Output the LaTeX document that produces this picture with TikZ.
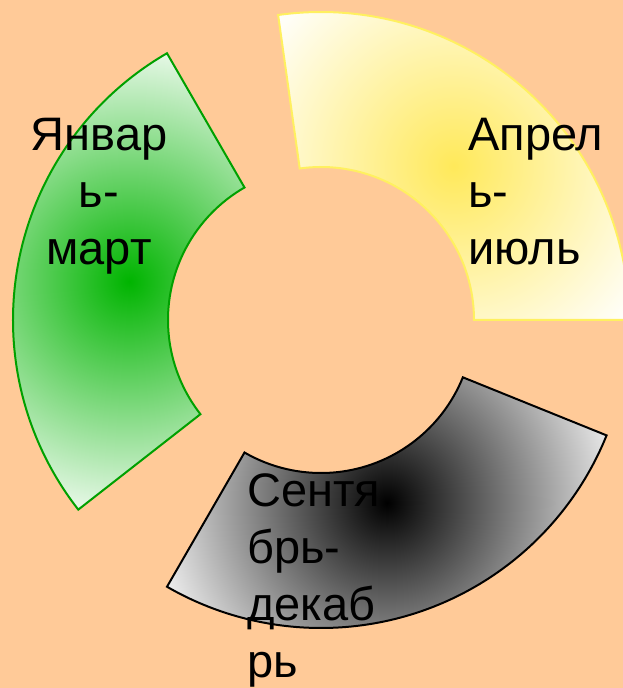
\documentclass[tikz,border=0pt]{standalone}
\usepackage{fontspec}
\setmainfont{Liberation Sans}
\definecolor{peach}{HTML}{FFCA98}
\definecolor{sunyellow}{HTML}{FFE95A}
\definecolor{sunedge}{HTML}{FFF060}
\definecolor{leafgreen}{HTML}{00B400}
\definecolor{leafedge}{HTML}{00A000}

% annular sector from angle #1 to #2 (inner radius 153, outer radius 308)
\newcommand{\ringseg}[2]{(#1:153) -- (#1:308)
  arc[start angle=#1, end angle=#2, radius=308] -- (#2:153)
  arc[start angle=#2, end angle=#1, radius=153] -- cycle}

\begin{document}
\begin{tikzpicture}[x=1pt, y=1pt,
  seg/.style={line width=2pt},
  lbl/.style={inner sep=0pt, font=\fontsize{47}{57}\selectfont}]
\useasboundingbox[fill=peach] (-321,-368) rectangle (302,320);

% Ring segments
\begin{scope}
  \clip \ringseg{0}{98};
  \shade[inner color=sunyellow, outer color=white] (132.6,154) circle (234);
\end{scope}
\draw[seg, draw=sunedge] \ringseg{0}{98};

\begin{scope}
  \clip \ringseg{120}{218};
  \shade[inner color=leafgreen, outer color=white] (-192,38.5) circle (256);
\end{scope}
\draw[seg, draw=leafedge] \ringseg{120}{218};

\begin{scope}
  \clip \ringseg{240}{338};
  \shade[inner color=black, outer color=white] (65.8,-182.7) circle (253);
\end{scope}
\draw[seg, draw=black] \ringseg{240}{338};

% Labels
\node[lbl, anchor=north, align=center] (jan) at (-222,202) {Январ\\ь-\\март};
\node[lbl, anchor=north west, align=left] (apr) at (147,202) {Апрел\\ь-\\июль};
\node[lbl, anchor=north west, align=left] (sep) at (-74,-153) {Сентя\\брь-\\декаб\\рь};
\end{tikzpicture}
\end{document}
